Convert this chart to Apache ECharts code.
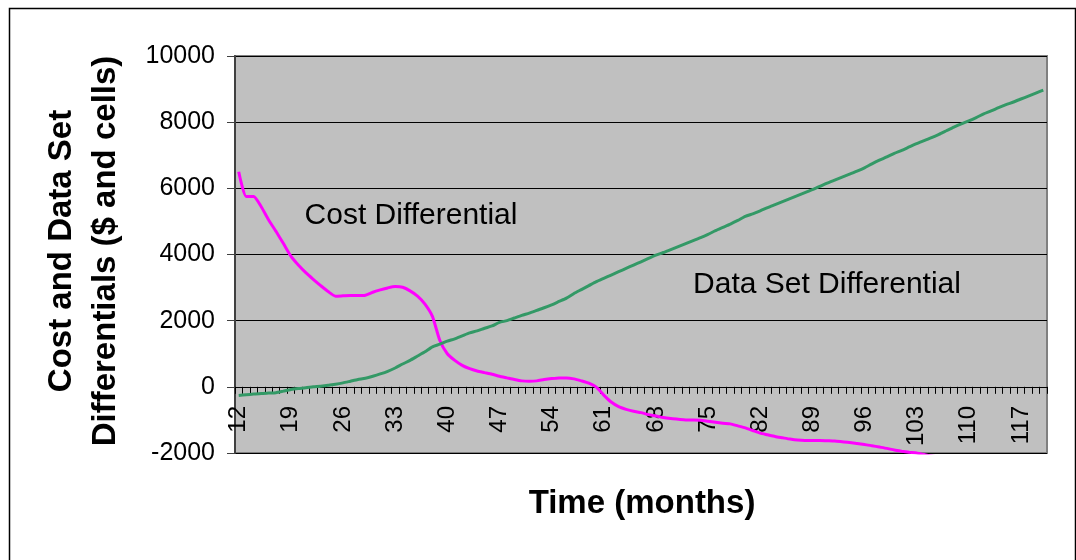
<!DOCTYPE html>
<html>
<head>
<meta charset="utf-8">
<script src="https://cdn.jsdelivr.net/npm/echarts@6/dist/echarts.min.js"></script>
<style>
html,body{margin:0;padding:0;background:#fff;}
#chart{width:1076px;height:560px;}
</style>
</head>
<body>
<div id="chart"></div>
<script>
// Months 12..120
const months = [];
for (let m = 12; m <= 120; m++) months.push(String(m));

const costDifferential = [
  6500, 5750, 5750, 5450, 5050, 4700, 4330, 3950, 3680, 3450,   // 12-21
  3250, 3060, 2880, 2740, 2750, 2760, 2760, 2770, 2860, 2930,   // 22-31
  2990, 3030, 3010, 2900, 2740, 2500, 2130, 1400, 1000, 800,    // 32-41
  650, 550, 480, 430, 380, 320, 270, 220, 180, 170,             // 42-51
  180, 220, 250, 270, 270, 240, 180, 110, -10, -250,            // 52-61
  -460, -600, -680, -740, -780, -840, -880, -930, -960, -980,   // 62-71
  -1000, -1000, -1010, -1040, -1070, -1100, -1120, -1180, -1240, -1320, // 72-81
  -1400, -1450, -1500, -1540, -1580, -1610, -1620, -1620, -1620, -1630, // 82-91
  -1640, -1660, -1680, -1710, -1740, -1780, -1820, -1860, -1910, -1945, // 92-101
  -1975, -2000, -2045, -2090, -2120, -2150, -2180, -2210, -2240, -2270, // 102-111
  -2300, -2340, -2380, -2410, -2450, -2490, -2530, -2560, -2600         // 112-120
];

const dataSetDifferential = [
  -260, -240, -220, -200, -190, -180, -130, -80, -50, -30,      // 12-21
  0, 20, 50, 80, 120, 170, 220, 260, 320, 390,                  // 22-31
  470, 570, 690, 800, 930, 1060, 1210, 1290, 1380, 1450,        // 32-41
  1540, 1630, 1690, 1770, 1840, 1950, 2000, 2080, 2160, 2230,   // 42-51
  2310, 2390, 2480, 2580, 2680, 2820, 2940, 3060, 3180, 3280,   // 52-61
  3380, 3480, 3580, 3680, 3780, 3880, 3980, 4060, 4150, 4240,   // 62-71
  4330, 4420, 4510, 4610, 4720, 4820, 4920, 5030, 5150, 5230,   // 72-81
  5320, 5420, 5510, 5600, 5690, 5780, 5870, 5960, 6060, 6160,   // 82-91
  6250, 6340, 6430, 6520, 6620, 6740, 6850, 6950, 7060, 7150,   // 92-101
  7250, 7350, 7440, 7530, 7630, 7740, 7850, 7950, 8040, 8140,   // 102-111
  8250, 8340, 8440, 8530, 8610, 8700, 8790, 8880, 8970          // 112-120
];

const yTicks = { min: -2000, max: 10000, interval: 2000 };

const FONT = '"Liberation Sans", Arial, sans-serif';
const chart = echarts.init(document.getElementById('chart'), null, {renderer: 'canvas'});

chart.setOption({
  animation: false,
  backgroundColor: '#ffffff',
  grid: {
    left: 235, right: 29, top: 56, bottom: 107,
    show: true, backgroundColor: '#C0C0C0',
    borderColor: '#808080', borderWidth: 2
  },
  xAxis: {
    type: 'category',
    data: months,
    boundaryGap: true,
    axisLine: { onZero: true, lineStyle: { color: '#000', width: 1 } },
    axisTick: { show: true, interval: 0, length: 7, lineStyle: { color: '#000', width: 1 } },
    axisLabel: {
      interval: 6, rotate: 90, margin: -47,
      color: '#000', fontSize: 24, fontFamily: FONT
    },
    splitLine: { show: false }
  },
  yAxis: {
    type: 'value',
    min: yTicks.min, max: yTicks.max, interval: yTicks.interval,
    axisLine: { show: true, onZero: false, lineStyle: { color: '#404040', width: 2 } },
    axisTick: { show: true, length: 8, lineStyle: { color: '#404040', width: 1 } },
    axisLabel: { color: '#000', fontSize: 25, fontFamily: FONT, margin: 20,
      formatter: function (v) { return String(v); } },
    splitLine: { show: true, lineStyle: { color: '#000', width: 1 } }
  },
  series: [
    {
      name: 'Cost Differential', type: 'line', data: costDifferential,
      showSymbol: false, smooth: 0.2, clip: true,
      lineStyle: { color: '#FF00FF', width: 3 }
    },
    {
      name: 'Data Set Differential', type: 'line', data: dataSetDifferential,
      showSymbol: false, smooth: 0.2, clip: true,
      lineStyle: { color: '#339966', width: 3 }
    }
  ],
  graphic: [
    { type: 'rect', left: 7, top: 6, shape: { width: 1066, height: 620 },
      style: { fill: 'none', stroke: '#000', lineWidth: 1.5 }, z: 100, silent: true },
    { type: 'text', x: 411, y: 216,
      style: { text: 'Cost Differential', font: '30px ' + FONT, fill: '#000', align: 'center', verticalAlign: 'middle' }, z: 100 },
    { type: 'text', x: 827, y: 285,
      style: { text: 'Data Set Differential', font: '30px ' + FONT, fill: '#000', align: 'center', verticalAlign: 'middle' }, z: 100 },
    { type: 'text', x: 642, y: 504,
      style: { text: 'Time (months)', font: 'bold 33px ' + FONT, fill: '#000', align: 'center', verticalAlign: 'middle' }, z: 100 },
    { type: 'text', x: 62, y: 251, rotation: Math.PI / 2,
      style: { text: 'Cost and Data Set', font: 'bold 33px ' + FONT, fill: '#000', align: 'center', verticalAlign: 'middle' }, z: 100 },
    { type: 'text', x: 106, y: 251, rotation: Math.PI / 2,
      style: { text: 'Differentials ($ and cells)', font: 'bold 33px ' + FONT, fill: '#000', align: 'center', verticalAlign: 'middle' }, z: 100 }
  ]
});
</script>
</body>
</html>
